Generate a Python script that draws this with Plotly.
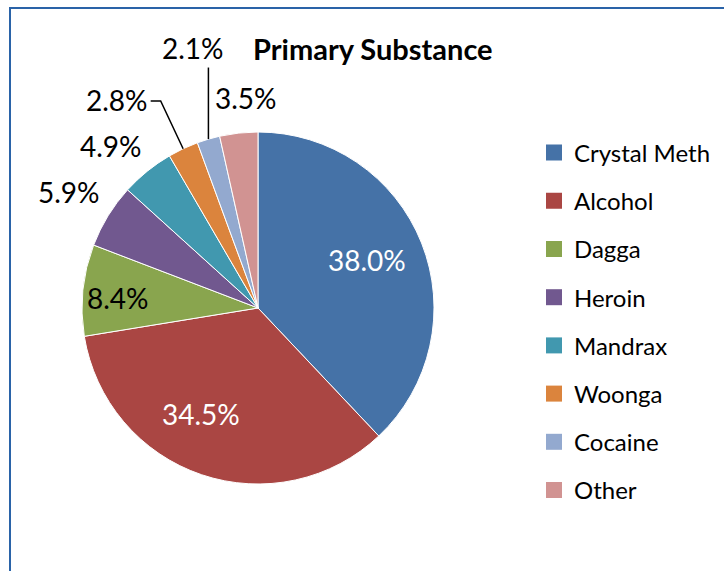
import math
import plotly.graph_objects as go

# ---- data ----
labels = ["Crystal Meth", "Alcohol", "Dagga", "Heroin", "Mandrax", "Woonga", "Cocaine", "Other"]
values = [38.0, 34.5, 8.4, 5.9, 4.9, 2.8, 2.1, 3.5]
colors = ["#4572A7", "#AA4643", "#89A54E", "#71588F", "#4198AF", "#DB843D", "#93A9CF", "#D19392"]
title_text = "Primary Substance"

# ---- style / layout params ----
W, H = 724, 571
CX, CY, R = 258, 308, 176          # pie centre & radius in pixels
FONT = "Lato"
# label placement: (radius factor, angle offset in degrees, color)
label_pos = [
    (0.677, -2.2, "white"),
    (0.684, 9.4, "white"),
    (0.80, -1.6, "black"),
    (1.258, 0.0, "black"),
    (1.243, -3.2, "black"),
    (1.43, -9.0, "black"),
    (1.525, 2.4, "black"),
    (1.195, 3.0, "black"),
]


def pxx(x):
    return x / W


def pxy(y):
    return 1 - y / H


def polar(theta_deg, rf):
    t = math.radians(theta_deg)
    return CX + rf * R * math.sin(t), CY - rf * R * math.cos(t)


total = sum(values)
mids = []
cum = 0.0
for v in values:
    mids.append((cum + v / 2) / total * 360)
    cum += v

fig = go.Figure()
fig.add_trace(go.Pie(
    labels=labels, values=values, sort=False, direction="clockwise", rotation=0,
    marker=dict(colors=colors, line=dict(color="white", width=1)),
    textinfo="none", hoverinfo="label+percent", showlegend=False,
    domain=dict(x=[pxx(CX - R), pxx(CX + R)], y=[pxy(CY + R), pxy(CY - R)]),
))

# legend entries (square swatches) via empty scatter traces
for i, (lab, col) in enumerate(zip(labels, colors)):
    fig.add_trace(go.Scatter(
        x=[None], y=[None], mode="markers", name=lab, legendgroup=f"g{i}",
        marker=dict(symbol="square", size=16, color=col),
    ))

annotations = []
for i, v in enumerate(values):
    rf, dth, col = label_pos[i]
    x, y = polar(mids[i] + dth, rf)
    annotations.append(dict(
        x=pxx(x), y=pxy(y), xref="paper", yref="paper", showarrow=False,
        text=f"{v:.1f}%", font=dict(family=FONT, size=28, color=col),
        xanchor="center", yanchor="middle",
    ))

annotations.append(dict(
    x=pxx(373), y=pxy(48), xref="paper", yref="paper", showarrow=False,
    text=f"<b>{title_text}</b>", font=dict(family=FONT, size=29, color="black"),
    xanchor="center", yanchor="middle",
))

shapes = []
# chart border (cropped on right & bottom)
shapes.append(dict(type="path", xref="paper", yref="paper",
                   path=f"M {pxx(10)},{pxy(H + 10)} L {pxx(10)},{pxy(8)} L {pxx(W + 10)},{pxy(8)}",
                   line=dict(color="#2A63A8", width=2)))
# leader line for Woonga (index 5): radial out then horizontal
e5 = polar(mids[5], 1.0)
b5 = polar(mids[5], 1.30)
shapes.append(dict(type="path", xref="paper", yref="paper",
                   path=f"M {pxx(e5[0])},{pxy(e5[1])} L {pxx(b5[0])},{pxy(b5[1])} L {pxx(b5[0] - 10)},{pxy(b5[1])}",
                   line=dict(color="black", width=1.5)))
# leader line for Cocaine (index 6): vertical up to label
e6 = polar(mids[6], 1.0)
l6 = polar(mids[6] + label_pos[6][1], label_pos[6][0])
shapes.append(dict(type="path", xref="paper", yref="paper",
                   path=f"M {pxx(e6[0])},{pxy(e6[1])} L {pxx(e6[0])},{pxy(l6[1] + 20)}",
                   line=dict(color="black", width=1.5)))

fig.update_layout(
    width=W, height=H, margin=dict(l=0, r=0, t=0, b=0),
    paper_bgcolor="white", plot_bgcolor="white",
    xaxis=dict(visible=False), yaxis=dict(visible=False),
    annotations=annotations, shapes=shapes,
    legend=dict(x=pxx(534), y=pxy(130.5), xanchor="left", yanchor="top",
                font=dict(family=FONT, size=24, color="black"),
                tracegroupgap=14, traceorder="grouped", itemclick=False),
)

fig.write_html("out.html")
